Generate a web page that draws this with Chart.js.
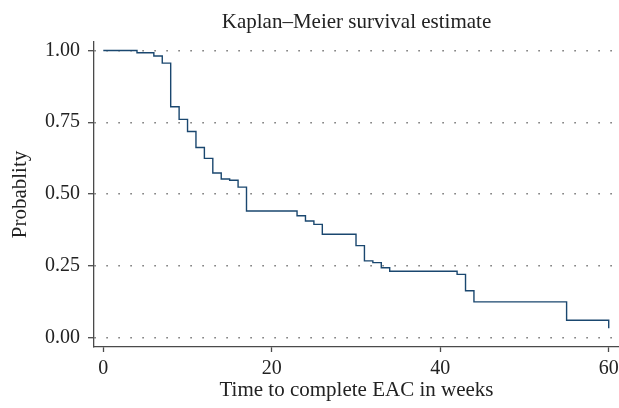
<!DOCTYPE html>
<html>
<head>
<meta charset="utf-8">
<script src="https://cdn.jsdelivr.net/npm/chart.js@4/dist/chart.umd.min.js"></script>
<style>
  html, body { margin: 0; padding: 0; background: #fff; }
  #wrap { width: 619px; height: 408px; }
</style>
</head>
<body>
<div id="wrap"><canvas id="km-chart" width="619" height="408"></canvas></div>
<script>
// Kaplan-Meier step points: survival holds from each time until the next one
var times = [0, 4, 6, 7, 8, 9, 10, 11, 12, 13, 14, 15, 16, 17, 23, 24, 25, 26, 30, 31, 32, 33, 34, 42, 43, 44, 55, 60];
var survival = [1.0, 0.992, 0.981, 0.956, 0.804, 0.76, 0.718, 0.662, 0.624, 0.573, 0.552, 0.548, 0.524, 0.441,
  0.424, 0.406, 0.394, 0.36, 0.32, 0.267, 0.261, 0.243, 0.231, 0.22, 0.163, 0.124, 0.06, 0.032];
var xTicks = [0, 20, 40, 60];
var yTicks = [0, 0.25, 0.5, 0.75, 1];

var serif = "'Liberation Serif', 'DejaVu Serif', serif";
var textColor = "#222";
var axisColor = "#4a4a4a";

function drawChart() {
  var points = times.map((t, i) => ({ x: t, y: survival[i] }));
  var ctx = document.getElementById("km-chart").getContext("2d");
  new Chart(ctx, {
    type: "line",
    data: {
      datasets: [
        {
          data: points,
          stepped: "before",
          borderColor: "#1a476f",
          borderWidth: 1.4,
          pointRadius: 0,
          fill: false,
        },
      ],
    },
    options: {
      responsive: false,
      animation: false,
      devicePixelRatio: 1,
      layout: { padding: 0 },
      plugins: {
        legend: { display: false },
        tooltip: { enabled: false },
        title: {
          display: true,
          fullSize: false,
          text: "Kaplan\u2013Meier survival estimate",
          color: textColor,
          font: { family: serif, size: 21, weight: "normal" },
          padding: { top: 10.3, bottom: 6.5 },
        },
      },
      scales: {
        x: {
          type: "linear",
          min: -1.104,
          max: 61.22,
          afterFit: (s) => {
            s.height = 61;
            s.paddingLeft = 0;
            s.paddingRight = 0;
          },
          afterBuildTicks: (s) => { s.ticks = xTicks.map((v) => ({ value: v })); },
          border: { display: true, color: axisColor, width: 1.3 },
          grid: { drawOnChartArea: false, drawTicks: true, tickLength: 5, tickColor: axisColor, tickWidth: 1.3 },
          ticks: { color: textColor, padding: 5, maxRotation: 0, font: { family: serif, size: 20 } },
          title: {
            display: true,
            text: "Time to complete EAC in weeks",
            color: textColor,
            font: { family: serif, size: 21 },
            padding: { top: 0, bottom: 5 },
          },
        },
        y: {
          type: "linear",
          min: -0.0331,
          max: 1.0296,
          afterFit: (s) => {
            s.width = 94;
            s.paddingTop = 0;
            s.paddingBottom = 0;
          },
          afterBuildTicks: (s) => { s.ticks = yTicks.map((v) => ({ value: v })); },
          border: { display: true, color: axisColor, width: 1.3, dash: [1.6, 10.4] },
          grid: { color: "#7a7a7a", lineWidth: 1.4, tickLength: 6, tickColor: axisColor, tickWidth: 1.3, tickBorderDash: [] },
          ticks: {
            color: textColor,
            padding: 8,
            font: { family: serif, size: 20 },
            callback: (v) => Number(v).toFixed(2),
          },
          title: {
            display: true,
            text: "Probablity",
            color: textColor,
            font: { family: serif, size: 21 },
            padding: { top: 8, bottom: 0 },
          },
        },
      },
    },
  });
}

document.addEventListener("DOMContentLoaded", drawChart);
</script>
</body>
</html>
